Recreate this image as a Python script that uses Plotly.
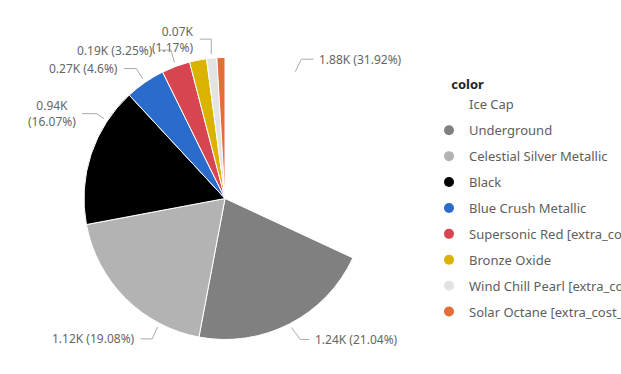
import math
import plotly.graph_objects as go

# ---- data ----
colors_names = ["Ice Cap", "Underground", "Celestial Silver Metallic", "Black",
                "Blue Crush Metallic", "Supersonic Red [extra_cost_color]", "Bronze Oxide",
                "Wind Chill Pearl [extra_cost_color]", "Solar Octane [extra_cost_color]"]
counts = [1875.9, 1236.5, 1121.3, 944.4, 270.3, 191.0, 114.6, 68.8, 54.1]
slice_colors = ["#FFFFFF", "#808080", "#B3B3B3", "#000000", "#2A6BCB",
                "#D64550", "#D9B300", "#E3E3E3", "#E66C37"]

# ---- layout constants ----
W, H = 621, 374
CX, CY, R = 225, 198.5, 141
FONT = "Noto Sans"
LABEL_COLOR = "#666666"
LINE_COLOR = "#AAAAAA"

total = sum(counts)


def fmt_k(v):
    return f"{v/1000:.2f}K"


def fmt_pct(v):
    p = round(v / total * 100, 2)
    s = f"{p:.2f}".rstrip("0").rstrip(".")
    return f"({s}%)"


def px(x):
    return x / W


def py(y):
    return 1 - y / H


fig = go.Figure()
fig.add_trace(go.Pie(
    labels=colors_names, values=counts, sort=False, direction="clockwise", rotation=0,
    marker=dict(colors=slice_colors, line=dict(color="#FFFFFF", width=1)),
    textinfo="none", showlegend=False,
    domain=dict(x=[px(CX - R), px(CX + R)], y=[py(CY + R), py(CY - R)]),
))

# legend entries with round markers
for name, col in zip(colors_names, slice_colors):
    fig.add_trace(go.Scatter(x=[None], y=[None], mode="markers", name=name,
                             legendgroup=name,
                             marker=dict(color=col, size=10, symbol="circle")))

# data labels with leader lines
label_specs = {
    0: dict(angle=29, elbow=(6, -12.5), run=12, wrap=False, align="left"),
    1: dict(angle=None, elbow=(9, 12), run=9, wrap=False, align="left"),
    2: dict(angle=207.7, elbow=(-5.5, 12), run=-11.5, wrap=False, align="right"),
    3: dict(angle=303.4, elbow=(-7, -5), run=-15, wrap=True, align="center"),
    4: dict(angle=None, elbow=(-6.5, -10.5), run=-12.5, wrap=False, align="right"),
    5: dict(angle=None, elbow=(-3.5, -12.5), run=-11.5, wrap=False, align="right"),
    7: dict(angle=None, elbow=(0, -15), run=-11.5, wrap=True, align="right"),
}

cum = 0
mids = []
for v in counts:
    mids.append((cum + v / 2) / total * 360)
    cum += v

shapes = []
annotations = []
for i, spec in label_specs.items():
    a = spec["angle"] if spec["angle"] is not None else mids[i]
    ar = math.radians(a)
    x0 = CX + (R + 4) * math.sin(ar)
    y0 = CY - (R + 4) * math.cos(ar)
    x1, y1 = x0 + spec["elbow"][0], y0 + spec["elbow"][1]
    x2 = x1 + spec["run"]
    shapes.append(dict(type="path", xref="paper", yref="paper",
                       path=f"M {px(x0)} {py(y0)} L {px(x1)} {py(y1)} L {px(x2)} {py(y1)}",
                       line=dict(color=LINE_COLOR, width=1)))
    right = spec["run"] > 0
    sep = "<br>" if spec["wrap"] else " "
    text = fmt_k(counts[i]) + sep + fmt_pct(counts[i])
    annotations.append(dict(xref="paper", yref="paper", x=px(x2 + (4 if right else -4)), y=py(y1),
                            xanchor="left" if right else "right", yanchor="middle",
                            align=spec["align"],
                            text=text, showarrow=False,
                            font=dict(family=FONT, size=12, color=LABEL_COLOR)))

fig.update_layout(
    width=W, height=H,
    margin=dict(l=0, r=0, t=0, b=0, autoexpand=False),
    paper_bgcolor="white", plot_bgcolor="white",
    xaxis=dict(visible=False), yaxis=dict(visible=False),
    shapes=shapes, annotations=annotations,
    legend=dict(
        title=dict(text="&nbsp;&nbsp;&nbsp;&nbsp;&nbsp;&nbsp;<b>color</b>",
                   font=dict(family=FONT, size=13, color="#252423")),
        x=px(429), y=py(72.5), xanchor="left", yanchor="top",
        font=dict(family=FONT, size=13, color="#605E5C"),
        tracegroupgap=6, itemsizing="trace", bgcolor="rgba(0,0,0,0)",
    ),
)

fig.write_html("out.html", config={"displayModeBar": False},
               post_script="document.body.style.margin='0px';")
